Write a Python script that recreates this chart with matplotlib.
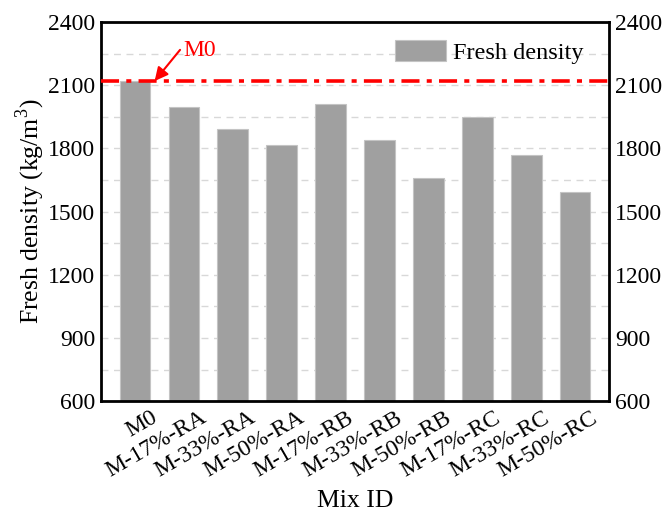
import matplotlib
matplotlib.use("Agg")
import matplotlib.pyplot as plt
from matplotlib.ticker import MultipleLocator
from matplotlib.transforms import ScaledTranslation

plt.rcParams["font.family"] = ["Liberation Serif", "DejaVu Serif"]
plt.rcParams["mathtext.fontset"] = "custom"
plt.rcParams["mathtext.rm"] = "Liberation Serif"

mix_ids = ["M0", "M-17%-RA", "M-33%-RA", "M-50%-RA", "M-17%-RB",
           "M-33%-RB", "M-50%-RB", "M-17%-RC", "M-33%-RC", "M-50%-RC"]
fresh_density = [2120, 1996, 1892, 1816, 2009, 1839, 1658, 1947, 1771, 1591]
reference_density = fresh_density[0]
y_ticks = [600, 900, 1200, 1500, 1800, 2100, 2400]

FS = 17
FS_LABEL = 18.5

fig = plt.figure(figsize=(6.68, 5.13), dpi=100)
ax = fig.add_axes([0.151, 0.218, 0.761, 0.739])

x = list(range(len(mix_ids)))
ax.bar(x, fresh_density, width=0.63, color="#a0a0a0", edgecolor="#c4c4c4",
       linewidth=0.8, label="Fresh density", zorder=2)

ax.axhline(reference_density, color="red", linestyle=(0, (5, 2, 1.4, 2)),
           linewidth=2.6, zorder=3)
ax.annotate("", xy=(0.40, reference_density), xytext=(0.92, 2268),
            arrowprops=dict(arrowstyle="-|>", color="red", lw=1.5,
                            mutation_scale=20, shrinkA=0, shrinkB=0),
            zorder=4)
ax.text(0.98, 2240, "M0", color="red", fontsize=FS, ha="left",
        va="baseline")

ax.set_xlim(-0.7, 9.7)
ax.set_ylim(600, 2400)
ax.set_yticks(y_ticks)
ax.yaxis.set_minor_locator(MultipleLocator(150))
ax.grid(axis="y", which="both", linestyle=(0, (5, 4)), color="#d8d8d8",
        linewidth=1.0, zorder=0)
ax.set_axisbelow(True)

# category labels: rotated, anchored a little to the right of each bar
ax.set_xticks(x)
ax.set_xticklabels([])
ax.tick_params(axis="x", length=0)
label_tf = ax.get_xaxis_transform() + ScaledTranslation(0.16, -0.06,
                                                        fig.dpi_scale_trans)
for xi, name in zip(x, mix_ids):
    ax.text(xi, 0, name, transform=label_tf, rotation=30, ha="right",
            va="top", rotation_mode="anchor", fontsize=FS)

ax.tick_params(axis="y", which="both", direction="in", labelsize=FS,
               length=0, right=True, labelright=True, pad=4)

for s in ax.spines.values():
    s.set_linewidth(2.0)

ax.set_xlabel("Mix ID", fontsize=FS_LABEL)
ax.xaxis.set_label_coords(0.5, -0.235)
ax.set_ylabel("Fresh density (kg/m$^3$)", fontsize=FS_LABEL, labelpad=1)

ax.legend(loc="upper right", frameon=False, fontsize=17.5,
          handlelength=2.1, handleheight=0.95, handletextpad=0.3,
          borderaxespad=0.35, bbox_to_anchor=(0.985, 1.0))

fig.savefig("out.png", dpi=100)
